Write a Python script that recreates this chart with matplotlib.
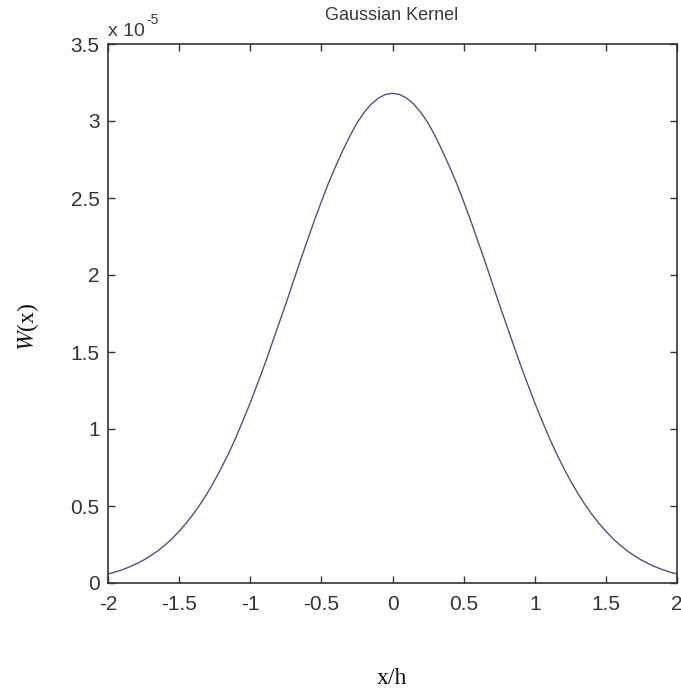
import numpy as np
import matplotlib
matplotlib.use("Agg")
import matplotlib.pyplot as plt

plt.rcParams['axes.unicode_minus'] = False

# kernel values W(x), in units of 1e-5, read at x/h steps of 0.05
x_over_h = [-2.0, -1.95, -1.9, -1.85, -1.8, -1.75, -1.7, -1.65, -1.6, -1.55,
            -1.5, -1.45, -1.4, -1.35, -1.3, -1.25, -1.2, -1.15, -1.1, -1.05,
            -1.0, -0.95, -0.9, -0.85, -0.8, -0.75, -0.7, -0.65, -0.6, -0.55,
            -0.5, -0.45, -0.4, -0.35, -0.3, -0.25, -0.2, -0.15, -0.1, -0.05,
            0.0, 0.05, 0.1, 0.15, 0.2, 0.25, 0.3, 0.35, 0.4, 0.45,
            0.5, 0.55, 0.6, 0.65, 0.7, 0.75, 0.8, 0.85, 0.9, 0.95,
            1.0, 1.05, 1.1, 1.15, 1.2, 1.25, 1.3, 1.35, 1.4, 1.45,
            1.5, 1.55, 1.6, 1.65, 1.7, 1.75, 1.8, 1.85, 1.9, 1.95, 2.0]
w_vals = [0.058, 0.071, 0.086, 0.104, 0.125, 0.149, 0.177, 0.209, 0.246, 0.288,
          0.336, 0.389, 0.448, 0.514, 0.586, 0.666, 0.753, 0.846, 0.947, 1.057,
          1.170, 1.292, 1.415, 1.547, 1.680, 1.812, 1.950, 2.088, 2.220, 2.352,
          2.477, 2.597, 2.705, 2.807, 2.902, 2.987, 3.055, 3.109, 3.148, 3.172,
          3.180, 3.172, 3.148, 3.109, 3.055, 2.987, 2.902, 2.807, 2.705, 2.597,
          2.477, 2.352, 2.220, 2.088, 1.950, 1.812, 1.680, 1.547, 1.415, 1.292,
          1.170, 1.057, 0.947, 0.846, 0.753, 0.666, 0.586, 0.514, 0.448, 0.389,
          0.336, 0.288, 0.246, 0.209, 0.177, 0.149, 0.125, 0.104, 0.086, 0.071, 0.058]

xticks = [-2, -1.5, -1, -0.5, 0, 0.5, 1, 1.5, 2]
xtick_labels = ['-2', '-1.5', '-1', '-0.5', '0', '0.5', '1', '1.5', '2']
yticks = [0, 0.5, 1, 1.5, 2, 2.5, 3, 3.5]
ytick_labels = ['0', '0.5', '1', '1.5', '2', '2.5', '3', '3.5']

W, H = 681, 693
fig = plt.figure(figsize=(W / 100, H / 100), dpi=100)
ax = fig.add_axes([108 / W, 1 - 583 / H, 569 / W, 539 / H])

ax.plot(x_over_h, w_vals, color='#50508e', lw=1.0)

ax.set_xlim(-2, 2)
ax.set_ylim(0, 3.5)
ax.set_xticks(xticks)
ax.set_xticklabels(xtick_labels)
ax.set_yticks(yticks)
ax.set_yticklabels(ytick_labels)

for lab in ax.get_xticklabels() + ax.get_yticklabels():
    lab.set_fontfamily('Liberation Sans')
    lab.set_fontsize(15)
    lab.set_color('#3a3a3a')

ax.tick_params(direction='in', length=5, width=1, colors='#333333',
               top=True, right=True, pad=6)
ax.tick_params(axis='x', pad=9)
for sp in ax.spines.values():
    sp.set_color('#333333')
    sp.set_linewidth(1.2)

# scale factor shown above the y axis
fig.text(108 / W, 1 - 31 / H, 'x 10', ha='left', va='center',
         fontfamily='Liberation Sans', fontsize=14, color='#3a3a3a')
fig.text(146 / W, 1 - 20 / H, '-5', ha='left', va='center',
         fontfamily='Liberation Sans', fontsize=10, color='#3a3a3a')

fig.text(392 / W, 1 - 16 / H, 'Gaussian Kernel', ha='center', va='center',
         fontfamily='Liberation Sans', fontsize=13, color='#3a3a3a')

fig.text(392 / W, 1 - 678 / H, 'x/h', ha='center', va='center',
         fontfamily='Liberation Serif', fontsize=17, color='#111111')
fig.text(28 / W, 1 - 327 / H, r'$\mathit{W}$(x)', ha='center', va='center',
         rotation=90, fontfamily='Liberation Serif', fontsize=17, color='#111111',
         math_fontfamily='stix')

fig.savefig('out.png', dpi=100)
